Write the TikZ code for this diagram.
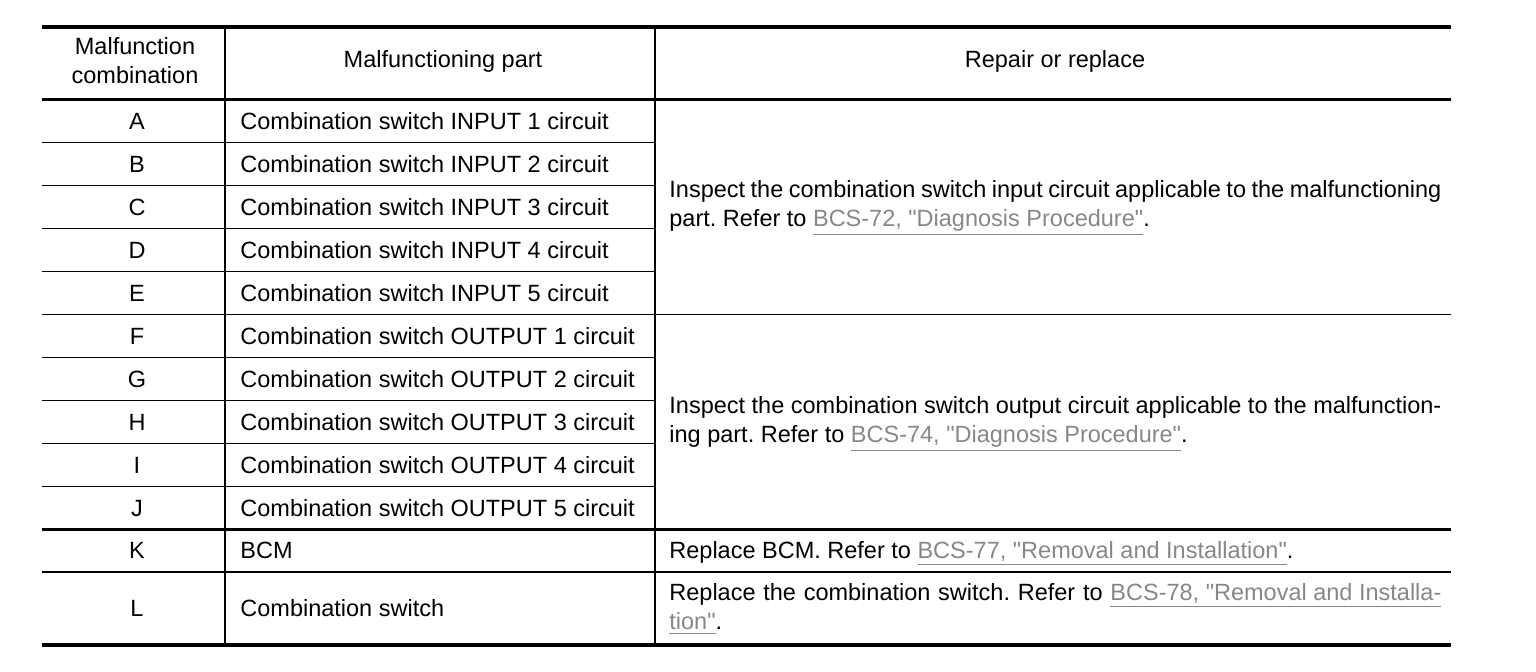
\documentclass[tikz,border=0pt]{standalone}
\usepackage{fontspec}
\setmainfont{Liberation Sans}
\usepackage{xcolor}
\usepackage{tikz}
\usetikzlibrary{positioning}

\newcommand{\bcslink}[1]{\textcolor{linkgray}{\underline{#1}}}
\newcommand{\qt}{\textquotedbl}

\begin{document}
\frenchspacing
\begin{tikzpicture}[
    x=0.5pt, y=-0.5pt,
    cell/.style={inner sep=0pt, text height=8.5pt, text depth=0pt},
    letter/.style={cell, anchor=center},
    part/.style={cell, anchor=west},
    fix/.style={inner sep=0pt, anchor=west, text width=386pt, align=justify},
    head/.style={inner sep=0pt, align=center},
    heavyrule/.style={line width=2pt},
    midrule/.style={line width=1.5pt},
    thinrule/.style={line width=0.8pt},
    every node/.style={font=\fontsize{11.75pt}{14.5pt}\selectfont}
]
\useasboundingbox (0,0) rectangle (1536,672);

% Colors
\definecolor{linkgray}{RGB}{135,135,135}

% Rules
\draw[heavyrule] (42,27) -- (1451,27);
\draw[midrule] (42,99.5) -- (1451,99.5);
\draw[thinrule] (42,142.5) -- (655,142.5) (42,185.5) -- (655,185.5)
    (42,228.5) -- (655,228.5) (42,271.5) -- (655,271.5);
\draw[thinrule] (42,314.5) -- (1451,314.5);
\draw[thinrule] (42,357.5) -- (655,357.5) (42,400.5) -- (655,400.5)
    (42,443.5) -- (655,443.5) (42,486.5) -- (655,486.5);
\draw[midrule] (42,529.5) -- (1451,529.5);
\draw[thinrule] (42,572) -- (1451,572);
\draw[heavyrule] (42,645) -- (1451,645);
\draw[thinrule] (225,27) -- (225,645) (655,27) -- (655,645);

% Header
\node[head] (hdcomb) at (135,61) {Malfunction\\combination};
\node[head] (hdpart) at (443,61) {Malfunctioning part};
\node[head] (hdrepair) at (1055,61) {Repair or replace};

% Input circuits
\node[letter] (combA) at (137,121) {A};
\node[part] (partA) at (240,121) {Combination switch INPUT 1 circuit};
\node[letter] (combB) at (137,164) {B};
\node[part] (partB) at (240,164) {Combination switch INPUT 2 circuit};
\node[letter] (combC) at (137,207) {C};
\node[part] (partC) at (240,207) {Combination switch INPUT 3 circuit};
\node[letter] (combD) at (137,250) {D};
\node[part] (partD) at (240,250) {Combination switch INPUT 4 circuit};
\node[letter] (combE) at (137,293) {E};
\node[part] (partE) at (240,293) {Combination switch INPUT 5 circuit};

\node[fix] (fixinput) at (669,208)
{Inspect the combination switch input circuit applicable to the malfunctioning\linebreak
part. Refer to \bcslink{BCS-72, \qt Diagnosis Procedure\qt}.};

% Output circuits
\node[letter] (combF) at (137,336) {F};
\node[part] (partF) at (240,336) {Combination switch OUTPUT 1 circuit};
\node[letter] (combG) at (137,379) {G};
\node[part] (partG) at (240,379) {Combination switch OUTPUT 2 circuit};
\node[letter] (combH) at (137,422) {H};
\node[part] (partH) at (240,422) {Combination switch OUTPUT 3 circuit};
\node[letter] (combI) at (137,465) {I};
\node[part] (partI) at (240,465) {Combination switch OUTPUT 4 circuit};
\node[letter] (combJ) at (137,508) {J};
\node[part] (partJ) at (240,508) {Combination switch OUTPUT 5 circuit};

\node[fix] (fixoutput) at (669,424)
{Inspect the combination switch output circuit applicable to the malfunction-\linebreak
ing part. Refer to \bcslink{BCS-74, \qt Diagnosis Procedure\qt}.};

% BCM and switch
\node[letter] (combK) at (137,550.5) {K};
\node[part] (partK) at (240,550.5) {BCM};
\node[fix, text height=8.5pt, text depth=0pt] (fixbcm) at (669,550.5)
{Replace BCM. Refer to \bcslink{BCS-77, \qt Removal and Installation\qt}.};

\node[letter] (combL) at (137,608.5) {L};
\node[part] (partL) at (240,608.5) {Combination switch};
\node[fix] (fixswitch) at (669,609)
{Replace the combination switch. Refer to \bcslink{BCS-78, \qt Removal and Installa-}\linebreak
\bcslink{tion\qt}.};

\end{tikzpicture}
\end{document}
